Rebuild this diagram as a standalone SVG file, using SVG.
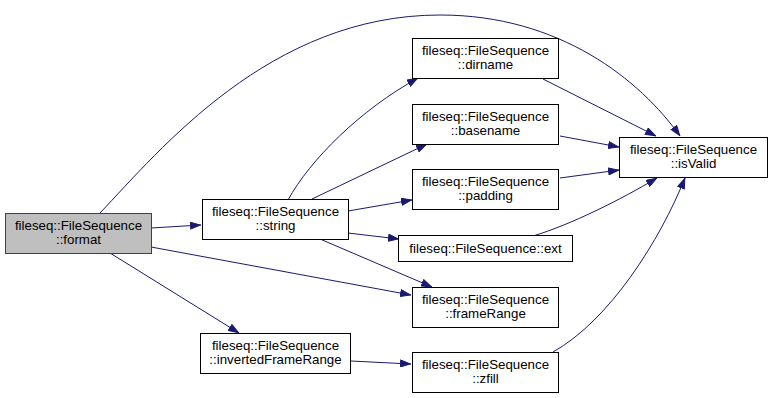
<svg xmlns="http://www.w3.org/2000/svg" width="772" height="398" viewBox="0 0 772 398">
  <style>
    .box { fill: #ffffff; stroke: #000000; stroke-width: 1; }
    .cur { fill: #bfbfbf; stroke: #404040; stroke-width: 1; }
    .lbl { font-family: "Liberation Sans", Arial, Helvetica, sans-serif; font-size: 13.3px; fill: #000000; text-anchor: middle; }
    .edge { fill: none; stroke: #191970; stroke-width: 1; marker-end: url(#arrow); }
  </style>
  <defs>
    <marker id="arrow" viewBox="0 0 11 8" refX="11" refY="4" markerWidth="11" markerHeight="8" markerUnits="userSpaceOnUse" orient="auto">
      <path d="M0.5,0.5 L10.5,4 L0.5,7.5 Z" fill="#191970" stroke="#191970" stroke-width="1"/>
    </marker>
  </defs>
  <rect width="772" height="398" fill="#ffffff"/>

  <g id="edges">
    <path class="edge" d="M100,213 C160,150 270,15 440,15 C560,15 640,80 680,136"/>
    <path class="edge" d="M151,228 L201,225"/>
    <path class="edge" d="M151,247 L411,295"/>
    <path class="edge" d="M110,253 L239,333"/>
    <path class="edge" d="M288,200 C310,160 360,110 418,78"/>
    <path class="edge" d="M312,199 L427,144"/>
    <path class="edge" d="M348,211 L412,200"/>
    <path class="edge" d="M348,233 L399,239"/>
    <path class="edge" d="M320,239 L432,287"/>
    <path class="edge" d="M543,79 L656,136"/>
    <path class="edge" d="M560,136 L619,147"/>
    <path class="edge" d="M560,178 L619,170"/>
    <path class="edge" d="M533,236 C570,225 620,200 657,178"/>
    <path class="edge" d="M553,352 C610,320 660,240 685,178"/>
    <path class="edge" d="M351,361 L411,364"/>
  </g>

  <g id="node-format">
    <rect class="cur" x="5.5" y="213.5" width="146" height="40"/>
    <text class="lbl" x="78.5" y="230">fileseq::FileSequence</text>
    <text class="lbl" x="78.5" y="244">::format</text>
  </g>
  <g id="node-string">
    <rect class="box" x="202.5" y="199.5" width="146" height="40"/>
    <text class="lbl" x="275.5" y="216">fileseq::FileSequence</text>
    <text class="lbl" x="275.5" y="230">::string</text>
  </g>
  <g id="node-invertedFrameRange">
    <rect class="box" x="200.5" y="333.5" width="150" height="40"/>
    <text class="lbl" x="275.5" y="350">fileseq::FileSequence</text>
    <text class="lbl" x="275.5" y="364">::invertedFrameRange</text>
  </g>
  <g id="node-dirname">
    <rect class="box" x="412.5" y="38.5" width="146" height="40"/>
    <text class="lbl" x="485.5" y="55">fileseq::FileSequence</text>
    <text class="lbl" x="485.5" y="69">::dirname</text>
  </g>
  <g id="node-basename">
    <rect class="box" x="412.5" y="104.5" width="146" height="40"/>
    <text class="lbl" x="485.5" y="121">fileseq::FileSequence</text>
    <text class="lbl" x="485.5" y="135">::basename</text>
  </g>
  <g id="node-padding">
    <rect class="box" x="412.5" y="169.5" width="146" height="40"/>
    <text class="lbl" x="485.5" y="186">fileseq::FileSequence</text>
    <text class="lbl" x="485.5" y="200">::padding</text>
  </g>
  <g id="node-ext">
    <rect class="box" x="398.5" y="235.5" width="174" height="26"/>
    <text class="lbl" x="485.5" y="253">fileseq::FileSequence::ext</text>
  </g>
  <g id="node-frameRange">
    <rect class="box" x="412.5" y="287.5" width="146" height="40"/>
    <text class="lbl" x="485.5" y="304">fileseq::FileSequence</text>
    <text class="lbl" x="485.5" y="318">::frameRange</text>
  </g>
  <g id="node-zfill">
    <rect class="box" x="412.5" y="352.5" width="146" height="40"/>
    <text class="lbl" x="485.5" y="369">fileseq::FileSequence</text>
    <text class="lbl" x="485.5" y="383">::zfill</text>
  </g>
  <g id="node-isValid">
    <rect class="box" x="619.5" y="137.5" width="148" height="40"/>
    <text class="lbl" x="693.5" y="154">fileseq::FileSequence</text>
    <text class="lbl" x="693.5" y="168">::isValid</text>
  </g>
</svg>
